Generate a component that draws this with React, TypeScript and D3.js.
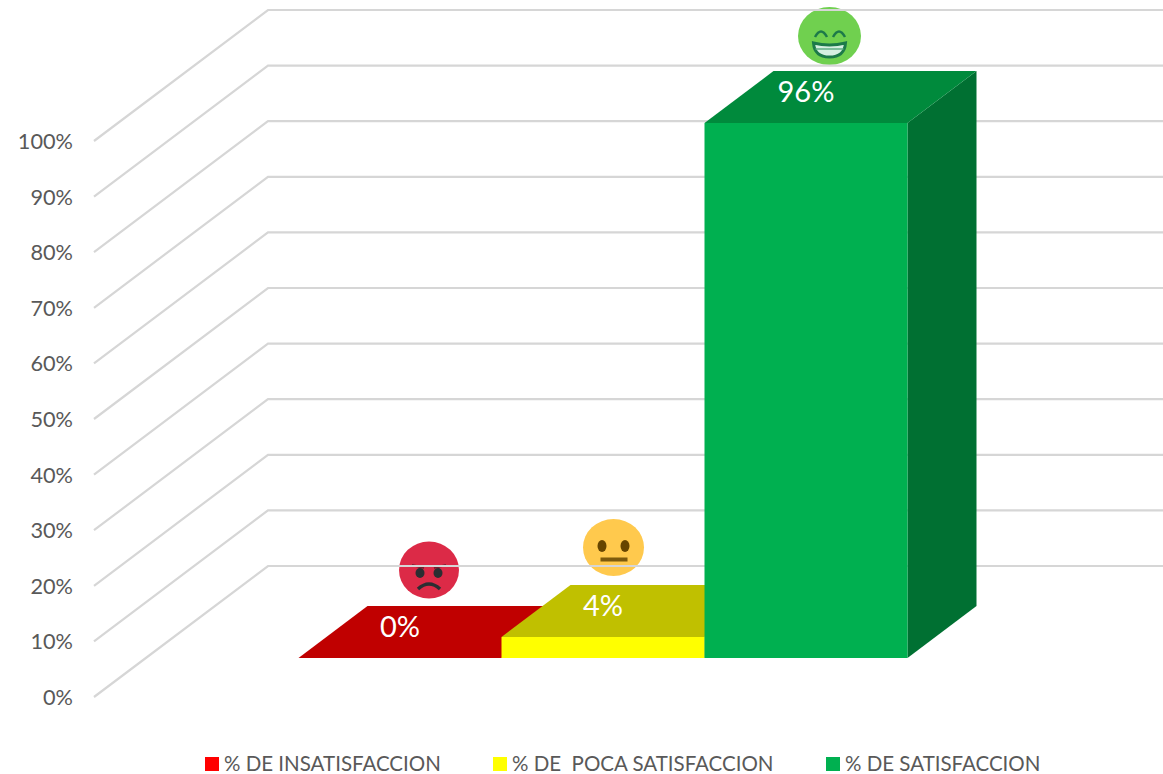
import React from "react";
import * as d3 from "d3";

const categories = ["% DE INSATISFACCION", "% DE  POCA SATISFACCION", "% DE SATISFACCION"];
const values = [0, 3.8, 96.2];
const valueLabels = ["0%", "4%", "96%"];
const ticks = [0, 10, 20, 30, 40, 50, 60, 70, 80, 90, 100];
const legendX = [205, 493, 826];
const frontColors = ["#ff0000", "#ffff00", "#00b050"];
const topColors = ["#c00000", "#c0c000", "#008a3c"];
const sideColors = ["#a00000", "#a0a000", "#007032"];

const width = 1163, height = 774;
const depthX = 69, depthY = -52; // floor offset of the 3d box
const wallX = 174, wallY = -131;
const font = "Lato, 'Open Sans', sans-serif";

const y = d3.scaleLinear().domain([0, 100]).range([697, 141]);
const barY = d3.scaleLinear().domain([0, 100]).rangeRound([658, 102]);
const x = d3.scaleBand<number>().domain([0, 1, 2]).range([298.5, 907.5]).padding(0);
const line = d3.line();

const AngryFace = () => (
  <g transform="translate(429,570)" filter="url(#soft)">
    <ellipse rx={30} ry={28.5} fill="#dc2b47" />
    <ellipse cx={-9} cy={3} rx={4.5} ry={5} fill="#292f33" />
    <ellipse cx={9} cy={3} rx={4.5} ry={5} fill="#292f33" />
    <path d="M-17,-5 L-5,-2 M17,-5 L5,-2" stroke="#7a1f2e" strokeWidth={2} fill="none" />
    <path d="M-11,19 Q0,9 11,19" stroke="#292f33" strokeWidth={3.5} fill="none" />
  </g>
);

const NeutralFace = () => (
  <g transform="translate(613.5,547.5)" filter="url(#soft)">
    <ellipse rx={30.5} ry={28.5} fill="#ffc94d" />
    <ellipse cx={-11.5} cy={-1.5} rx={4.5} ry={6} fill="#664500" />
    <ellipse cx={11.5} cy={-1.5} rx={4.5} ry={6} fill="#664500" />
    <rect x={-13} y={10} width={27} height={4} fill="#7d5a0a" />
  </g>
);

const GrinFace = () => (
  <g transform="translate(829.5,36)" filter="url(#soft)">
    <ellipse rx={31.5} ry={29} fill="#6fd050" />
    <path d="M-14.5,1 Q-8.5,-10 -2.5,1 M3.5,1 Q9.5,-10 15.5,1" stroke="#1f7a4a" strokeWidth={2.5} fill="none" />
    <path d="M-16,7 Q0,11 16,7 Q15,21 0,21 Q-15,21 -16,7 Z" fill="#d5efe0" stroke="#1f7a4a" strokeWidth={3} />
    <path d="M-14,13 H14" stroke="#5fae85" strokeWidth={1.5} fill="none" />
  </g>
);

export default function App() {
  return (
    <svg width={width} height={height} style={{ position: "absolute", left: 0, top: 0, background: "#fff" }}>
      <defs>
        <filter id="soft" x="-10%" y="-10%" width="120%" height="120%">
          <feGaussianBlur stdDeviation={0.6} />
        </filter>
      </defs>
      <AngryFace />
      <NeutralFace />
      <GrinFace />
      {ticks.map((t) => (
        <g key={t}>
          <path
            d={line([[94, y(t)], [94 + wallX, y(t) + wallY], [width, y(t) + wallY]]) ?? ""}
            fill="none"
            stroke="#d6d6d6"
            strokeWidth={2.2}
          />
          <text x={73} y={y(t) + 8} textAnchor="end" fontFamily={font} fontSize={21.7} fill="#595959">
            {t}%
          </text>
        </g>
      ))}
      {values.map((v, i) => {
        const x0 = x(i) ?? 0;
        const x1 = x0 + x.bandwidth();
        const base = barY(0);
        const top = barY(v);
        return (
          <g key={i}>
            {v > 0 && (
              <path
                d={line([[x1, top], [x1 + depthX, top + depthY], [x1 + depthX, base + depthY], [x1, base]]) + "Z"}
                fill={sideColors[i]}
              />
            )}
            <path
              d={line([[x0, top], [x0 + depthX, top + depthY], [x1 + depthX, top + depthY], [x1, top]]) + "Z"}
              fill={topColors[i]}
            />
            <rect x={x0} y={top} width={x.bandwidth()} height={base - top} fill={frontColors[i]} />
          </g>
        );
      })}
      {values.map((v, i) => (
        <text
          key={i}
          x={(x(i) ?? 0) + x.bandwidth() / 2}
          y={barY(v) - 21}
          textAnchor="middle"
          fontFamily={font}
          fontSize={29}
          fill="#fff"
        >
          {valueLabels[i]}
        </text>
      ))}
      {categories.map((c, i) => (
        <g key={c}>
          <rect x={legendX[i]} y={757} width={14} height={14} fill={frontColors[i]} />
          <text x={legendX[i] + 19} y={771} fontFamily={font} fontSize={20.5} fill="#595959" style={{ whiteSpace: "pre" }}>
            {c}
          </text>
        </g>
      ))}
    </svg>
  );
}
